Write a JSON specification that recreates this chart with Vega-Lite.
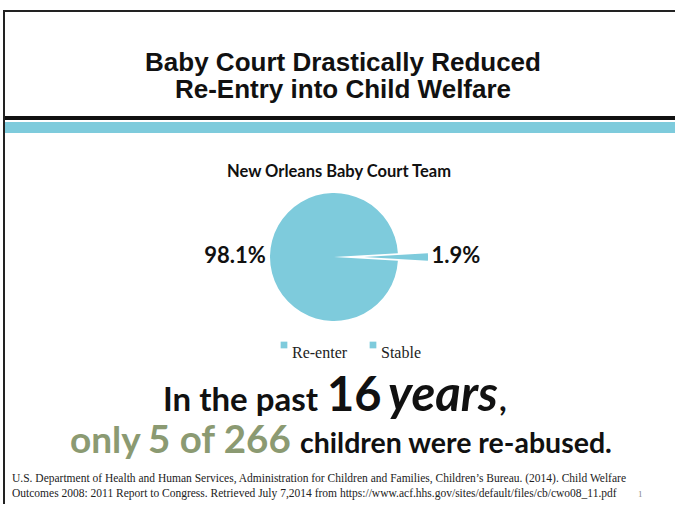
{
  "$schema": "https://vega.github.io/schema/vega-lite/v6.json",
  "width": 671,
  "height": 492,
  "autosize": {"type": "none"},
  "padding": {"left": 4, "top": 11, "right": 0, "bottom": 8},
  "background": "white",
  "view": {
    "fill": {
      "gradient": "linear", "x1": 0, "y1": 0, "x2": 0, "y2": 1,
      "stops": [
        {"offset": 0, "color": "#ffffff"},
        {"offset": 0.2134, "color": "#ffffff"},
        {"offset": 0.2134, "color": "#111111"},
        {"offset": 0.2215, "color": "#111111"},
        {"offset": 0.2215, "color": "#ffffff"},
        {"offset": 0.2256, "color": "#ffffff"},
        {"offset": 0.2256, "color": "#7ecbdc"},
        {"offset": 0.248, "color": "#7ecbdc"},
        {"offset": 0.248, "color": "#ffffff"},
        {"offset": 1, "color": "#ffffff"}
      ]
    },
    "stroke": "#222222",
    "strokeWidth": 2,
    "strokeDash": [671, 1163, 492, 0],
    "strokeCap": "square"
  },
  "data": {"values": [
    {"category": "Re-enter", "share": 0.019},
    {"category": "Stable", "share": 0.981}
  ]},
  "layer": [
    {
      "mark": {"type": "arc", "outerRadius": 64, "xOffset": -5.5},
      "encoding": {
        "theta": {"field": "share", "type": "quantitative", "stack": true, "scale": {"range": [1.5111, 7.7943]}},
        "order": {"field": "category", "sort": "ascending"},
        "color": {
          "field": "category", "type": "nominal",
          "scale": {"domain": ["Re-enter", "Stable"], "range": ["#7ecbdc", "#7ecbdc"]},
          "legend": {
            "title": null, "orient": "none", "legendX": 272, "legendY": 326,
            "direction": "horizontal", "symbolType": "square", "symbolSize": 45,
            "symbolStrokeWidth": 0, "labelFont": "Liberation Serif", "labelFontSize": 16,
            "labelColor": "#222222", "labelOffset": 0, "columnPadding": 17,
            "labelBaseline": "top", "padding": 0
          }
        },
        "opacity": {"condition": {"test": "datum.category === 'Stable'", "value": 1}, "value": 0}
      }
    },
    {
      "mark": {"type": "arc", "outerRadius": 64, "xOffset": 24.5},
      "encoding": {
        "theta": {"field": "share", "type": "quantitative", "stack": true, "scale": {"range": [1.5111, 7.7943]}},
        "order": {"field": "category", "sort": "ascending"},
        "color": {"field": "category", "type": "nominal"},
        "opacity": {"condition": {"test": "datum.category === 'Re-enter'", "value": 1}, "value": 0}
      }
    },
    {
      "mark": {"type": "text", "radius": 99, "xOffset": -5.5, "dy": -1, "font": "Lato", "fontWeight": "bold", "fontSize": 22, "color": "#111111", "align": "center", "baseline": "middle"},
      "encoding": {
        "theta": {"field": "share", "type": "quantitative", "stack": true},
        "order": {"field": "category", "sort": "ascending"},
        "detail": {"field": "category"},
        "text": {"condition": {"test": "datum.category === 'Stable'", "field": "share", "type": "quantitative", "format": ".1%"}, "value": ""}
      }
    },
    {
      "mark": {"type": "text", "radius": 122, "xOffset": -5.5, "dy": -1, "font": "Lato", "fontWeight": "bold", "fontSize": 22, "color": "#111111", "align": "center", "baseline": "middle"},
      "encoding": {
        "theta": {"field": "share", "type": "quantitative", "stack": true},
        "order": {"field": "category", "sort": "ascending"},
        "detail": {"field": "category"},
        "text": {"condition": {"test": "datum.category === 'Re-enter'", "field": "share", "type": "quantitative", "format": ".1%"}, "value": ""}
      }
    },
    {
      "data": {"values": [{"text": "Baby Court Drastically Reduced\nRe-Entry into Child Welfare"}]},
      "mark": {"type": "text", "lineBreak": "\n", "font": "Liberation Sans", "fontWeight": "bold", "fontSize": 26, "lineHeight": 27, "align": "center", "baseline": "middle", "dx": 3.5, "dy": -194, "color": "#111111"},
      "encoding": {"text": {"field": "text"}}
    },
    {
      "data": {"values": [{"text": "New Orleans Baby Court Team"}]},
      "mark": {"type": "text", "font": "Lato", "fontWeight": "bold", "fontSize": 16.5, "align": "center", "baseline": "middle", "dx": -0.5, "dy": -85, "color": "#111111"},
      "encoding": {"text": {"field": "text"}}
    },
    {
      "data": {"values": [{"text": "In the past"}]},
      "mark": {"type": "text", "font": "Lato", "fontWeight": "bold", "fontSize": 33, "align": "left", "baseline": "alphabetic", "dx": -176.5, "dy": 154, "color": "#111111"},
      "encoding": {"text": {"field": "text"}}
    },
    {
      "data": {"values": [{"text": "16"}]},
      "mark": {"type": "text", "font": "Lato", "fontWeight": "bold", "fontSize": 47, "align": "left", "baseline": "alphabetic", "dx": -12.5, "dy": 154, "color": "#111111"},
      "encoding": {"text": {"field": "text"}}
    },
    {
      "data": {"values": [{"text": "years"}]},
      "mark": {"type": "text", "font": "Lato", "fontWeight": "bold", "fontStyle": "italic", "fontSize": 49, "align": "left", "baseline": "alphabetic", "dx": 48.5, "dy": 154, "color": "#111111"},
      "encoding": {"text": {"field": "text"}}
    },
    {
      "data": {"values": [{"text": ","}]},
      "mark": {"type": "text", "font": "Lato", "fontWeight": "bold", "fontSize": 33, "align": "left", "baseline": "alphabetic", "dx": 159.5, "dy": 154, "color": "#111111"},
      "encoding": {"text": {"field": "text"}}
    },
    {
      "data": {"values": [{"text": "only"}]},
      "mark": {"type": "text", "font": "Lato", "fontWeight": "bold", "fontSize": 37, "align": "left", "baseline": "alphabetic", "dx": -269.5, "dy": 196, "color": "#8b9a72"},
      "encoding": {"text": {"field": "text"}}
    },
    {
      "data": {"values": [{"text": "5 of 266"}]},
      "mark": {"type": "text", "font": "Lato", "fontWeight": "bold", "fontSize": 38.5, "align": "left", "baseline": "alphabetic", "dx": -191.5, "dy": 196, "color": "#8b9a72"},
      "encoding": {"text": {"field": "text"}}
    },
    {
      "data": {"values": [{"text": "children were re-abused."}]},
      "mark": {"type": "text", "font": "Lato", "fontWeight": "bold", "fontSize": 28.5, "align": "left", "baseline": "alphabetic", "dx": -39.5, "dy": 196, "color": "#111111"},
      "encoding": {"text": {"field": "text"}}
    },
    {
      "data": {"values": [{"text": "U.S. Department of Health and Human Services, Administration for Children and Families, Children’s Bureau. (2014). Child Welfare\nOutcomes 2008: 2011 Report to Congress. Retrieved July 7,2014 from https://www.acf.hhs.gov/sites/default/files/cb/cwo08_11.pdf"}]},
      "mark": {"type": "text", "lineBreak": "\n", "font": "Liberation Serif", "fontSize": 11.5, "lineHeight": 15, "align": "left", "baseline": "alphabetic", "dx": -327.5, "dy": 225, "color": "#222222"},
      "encoding": {"text": {"field": "text"}}
    },
    {
      "data": {"values": [{"text": "1"}]},
      "mark": {"type": "text", "font": "Liberation Serif", "fontSize": 9, "align": "left", "baseline": "alphabetic", "dx": 298.5, "dy": 240, "color": "#888888"},
      "encoding": {"text": {"field": "text"}}
    }
  ]
}
